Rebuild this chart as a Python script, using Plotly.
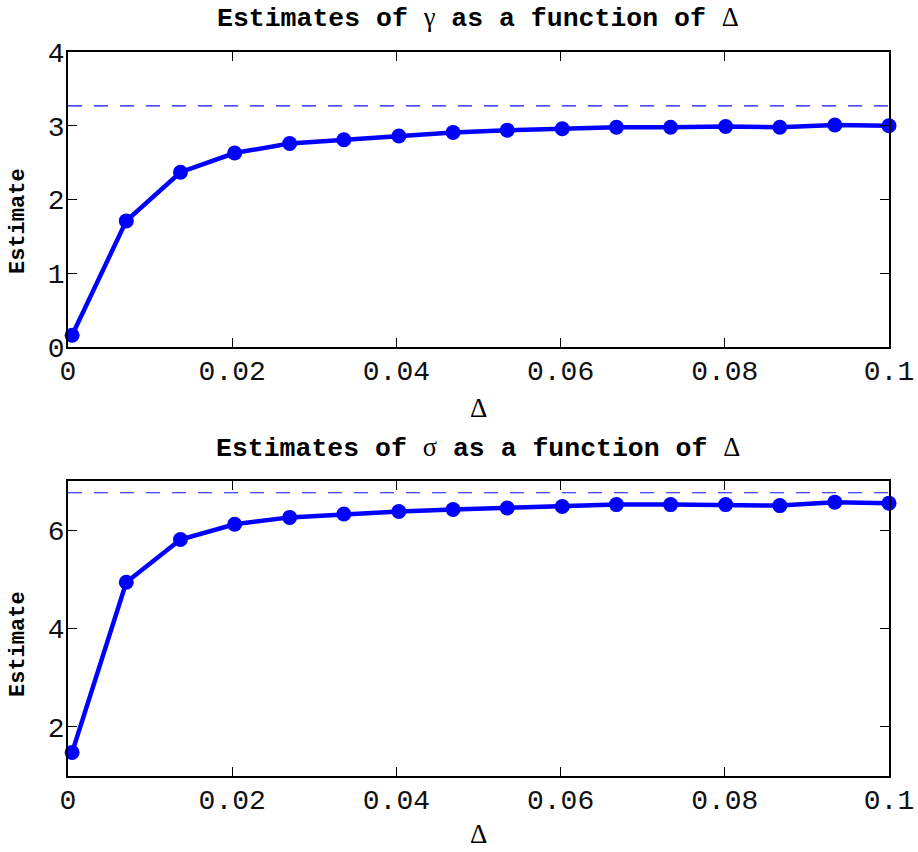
import plotly.graph_objects as go

# ---- data ----
delta = [0.0005, 0.0071, 0.0137, 0.0203, 0.0270, 0.0336, 0.0403, 0.0469,
         0.0535, 0.0602, 0.0668, 0.0734, 0.0801, 0.0867, 0.0934, 0.1000]
gamma_est = [0.16, 1.71, 2.37, 2.63, 2.76, 2.81, 2.86, 2.91,
             2.94, 2.96, 2.98, 2.98, 2.99, 2.98, 3.01, 3.00]
sigma_est = [1.48, 4.94, 5.81, 6.12, 6.26, 6.33, 6.38, 6.42,
             6.45, 6.48, 6.52, 6.52, 6.52, 6.50, 6.57, 6.55]
gamma_true = 3.27
sigma_true = 6.76
x_ticks = [0, 0.02, 0.04, 0.06, 0.08, 0.1]
x_tick_labels = ["0", "0.02", "0.04", "0.06", "0.08", "0.1"]
gamma_ticks = [0, 1, 2, 3, 4]
sigma_ticks = [2, 4, 6]
x_range = [0, 0.1]

BLUE = "#0000ff"
TICKFONT = dict(family="Liberation Mono, DejaVu Sans Mono, monospace", size=28, color="#111")
TITLEFAM = "Courier New, Courier, Nimbus Mono PS, Liberation Mono, monospace"
SERIF = "Liberation Serif, DejaVu Serif, serif"

W, H = 918, 852
fig = go.Figure()

fig.add_trace(go.Scatter(x=delta, y=gamma_est, mode="lines+markers",
                         line=dict(color=BLUE, width=4.5),
                         marker=dict(color=BLUE, size=15),
                         xaxis="x", yaxis="y", showlegend=False, cliponaxis=False))
fig.add_trace(go.Scatter(x=x_range, y=[gamma_true, gamma_true], mode="lines",
                         line=dict(color="#1010ff", width=1.1, dash="14px,12px"),
                         xaxis="x", yaxis="y", showlegend=False))
fig.add_trace(go.Scatter(x=delta, y=sigma_est, mode="lines+markers",
                         line=dict(color=BLUE, width=4.5),
                         marker=dict(color=BLUE, size=15),
                         xaxis="x2", yaxis="y2", showlegend=False, cliponaxis=False))
fig.add_trace(go.Scatter(x=x_range, y=[sigma_true, sigma_true], mode="lines",
                         line=dict(color="#1010ff", width=1.1, dash="14px,12px"),
                         xaxis="x2", yaxis="y2", showlegend=False))

xd = [68 / W, 889 / W]
top_dom = [1 - 347 / H, 1 - 52 / H]
bot_dom = [1 - 776 / H, 1 - 481 / H]

axis_common = dict(showline=True, linecolor="black", linewidth=1.5, mirror="ticks",
                   ticks="inside", ticklen=9, tickwidth=1, tickcolor="black",
                   showgrid=False, zeroline=False, tickfont=TICKFONT, automargin=False)

fig.update_layout(
    width=W, height=H, margin=dict(l=0, r=0, t=0, b=0, autoexpand=False),
    plot_bgcolor="white", paper_bgcolor="white",
    xaxis=dict(domain=xd, range=x_range, tickvals=x_ticks, ticktext=x_tick_labels,
               anchor="y", ticklabelstandoff=-2, **axis_common),
    yaxis=dict(domain=top_dom, range=[0, 4], tickvals=gamma_ticks, anchor="x",
               ticklabelstandoff=-4, **axis_common),
    xaxis2=dict(domain=xd, range=x_range, tickvals=x_ticks, ticktext=x_tick_labels,
                anchor="y2", ticklabelstandoff=-2, **axis_common),
    yaxis2=dict(domain=bot_dom, range=[1, 7], tickvals=sigma_ticks, anchor="x2",
                ticklabelstandoff=-4, **axis_common),
)

def title_text(sym):
    return ("<b>Estimates of </b><span style=\"font-family:%s\">%s</span>"
            "<b> as a function of </b><span style=\"font-family:%s\">Δ</span>") % (SERIF, sym, SERIF)

ann = []
cx = (xd[0] + xd[1]) / 2
for ty, sym in [(18, "γ"), (448, "σ")]:
    ann.append(dict(x=cx, y=1 - ty / H, xref="paper", yref="paper", text=title_text(sym),
                    showarrow=False, xanchor="center", yanchor="middle",
                    font=dict(family=TITLEFAM, size=26.5, color="#000")))
for ly in [408, 834]:
    ann.append(dict(x=cx, y=1 - ly / H, xref="paper", yref="paper", text="Δ",
                    showarrow=False, xanchor="center", yanchor="middle",
                    font=dict(family=SERIF, size=27, color="#000")))
for ly in [221, 644]:
    ann.append(dict(x=18 / W, y=1 - ly / H, xref="paper", yref="paper", text="<b>Estimate</b>",
                    showarrow=False, xanchor="center", yanchor="middle", textangle=-90,
                    font=dict(family=TITLEFAM, size=22, color="#000")))
fig.update_layout(annotations=ann)

fig.write_html("out.html")
